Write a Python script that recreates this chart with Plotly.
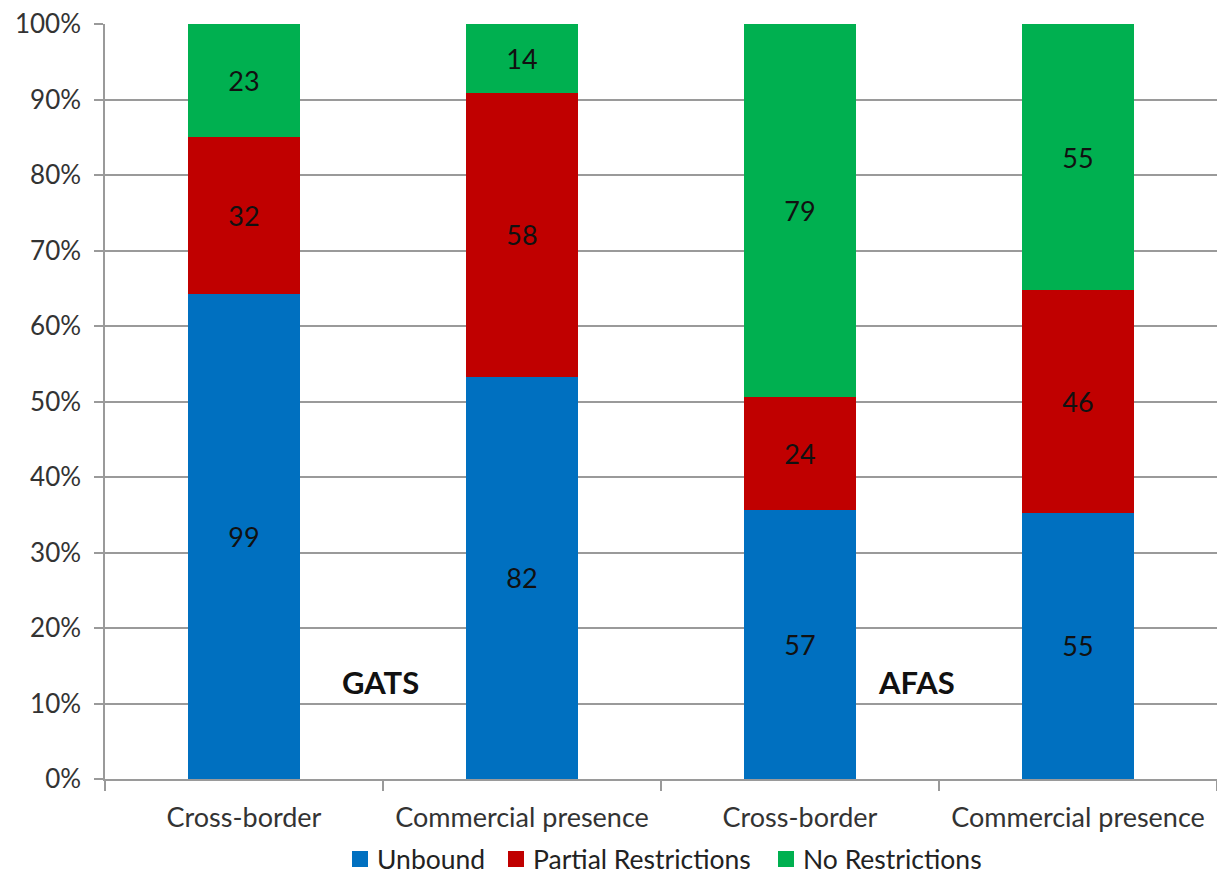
import plotly.graph_objects as go

categories = ["Cross-border", "Commercial presence", "Cross-border", "Commercial presence"]
unbound = [99, 82, 57, 55]
partial = [32, 58, 24, 46]
no_restr = [23, 14, 79, 55]
y_ticks = [0, 10, 20, 30, 40, 50, 60, 70, 80, 90, 100]

FONT = "Lato, 'Open Sans', sans-serif"
xpos = list(range(len(categories)))

series = [
    ("Unbound", unbound, "#0070C0"),
    ("Partial Restrictions", partial, "#C00000"),
    ("No Restrictions", no_restr, "#00B050"),
]

# figure / plot-area geometry in pixels
W, H = 1217, 876
ML, MR, MT, MB = 105, 0, 24, 97
PW, PH = W - ML - MR, H - MT - MB


def px_to_paper_x(px):
    return (px - ML) / PW


def px_to_paper_y(py):
    return (H - MB - py) / PH


fig = go.Figure()
for name, vals, color in series:
    fig.add_trace(go.Bar(
        x=xpos, y=vals, name=name,
        marker=dict(color=color, line=dict(width=0)),
        text=[str(v) for v in vals],
        textposition="inside",
        insidetextanchor="middle",
        textangle=0,
        textfont=dict(family=FONT, size=27, color="#111111"),
        width=0.406,
        hoverinfo="skip",
        showlegend=False,
    ))

fig.update_layout(
    barmode="stack",
    barnorm="percent",
    width=W, height=H,
    margin=dict(l=ML, r=MR, t=MT, b=MB, autoexpand=False),
    paper_bgcolor="white",
    plot_bgcolor="white",
    font=dict(family=FONT, size=26, color="#333333"),
    uniformtext=dict(mode=False),
    xaxis=dict(
        range=[-0.5, 3.5],
        tickmode="array",
        tickvals=xpos,
        ticktext=categories,
        ticks="",
        showgrid=False,
        showline=True,
        linecolor="#9a9a9a",
        linewidth=1.5,
        ticklabelstandoff=14,
        tickfont=dict(family=FONT, size=27, color="#333333"),
        minor=dict(
            tickmode="array",
            tickvals=[-0.5, 0.5, 1.5, 2.5, 3.5],
            ticks="outside",
            ticklen=10,
            tickcolor="#9a9a9a",
            tickwidth=1.5,
            showgrid=False,
        ),
        zeroline=False,
        fixedrange=True,
    ),
    yaxis=dict(
        range=[0, 100],
        tickmode="array",
        tickvals=y_ticks,
        ticktext=[f"{v}%" for v in y_ticks],
        ticks="outside",
        ticklen=9,
        tickcolor="#9a9a9a",
        tickwidth=1.5,
        showgrid=True,
        gridcolor="#9a9a9a",
        gridwidth=1.5,
        showline=True,
        linecolor="#9a9a9a",
        linewidth=1.5,
        zeroline=False,
        ticklabelstandoff=8,
        tickfont=dict(family=FONT, size=26, color="#333333"),
        fixedrange=True,
    ),
)

# bottom legend: colour swatch followed by series name
legend_x = [352, 508, 778]  # left edge of each swatch, px
legend_cy = 859
swatch = 16
for (name, _, color), lx in zip(series, legend_x):
    fig.add_shape(
        type="rect", xref="paper", yref="paper",
        x0=px_to_paper_x(lx), x1=px_to_paper_x(lx + swatch),
        y0=px_to_paper_y(legend_cy + swatch / 2), y1=px_to_paper_y(legend_cy - swatch / 2),
        fillcolor=color, line=dict(width=0),
    )
    fig.add_annotation(
        x=px_to_paper_x(lx + swatch + 8), y=px_to_paper_y(legend_cy),
        xref="paper", yref="paper", xanchor="left", yanchor="middle",
        text=name, showarrow=False, borderpad=0,
        font=dict(family=FONT, size=26.5, color="#222222"),
    )

for label, xv in [("GATS", 0.49), ("AFAS", 2.42)]:
    fig.add_annotation(
        x=xv, y=12.9, xref="x", yref="y",
        text=f"<b>{label}</b>", showarrow=False,
        font=dict(family=FONT, size=31, color="#111111"),
    )

fig.write_html("out.html")
